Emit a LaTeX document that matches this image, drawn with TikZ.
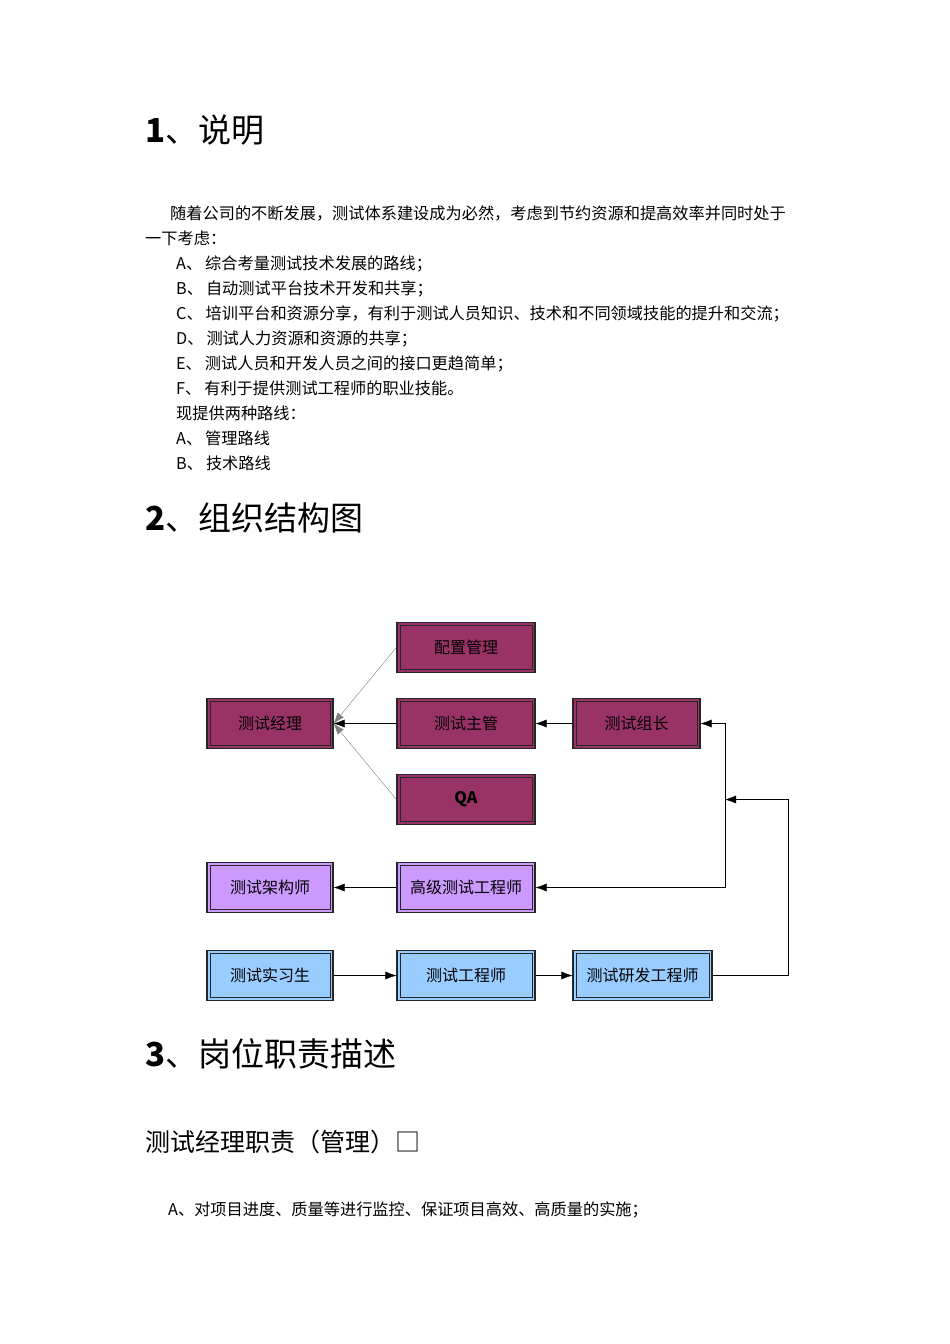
\documentclass[tikz,border=0pt]{standalone}
\usepackage{fontspec}
\setmainfont{Noto Sans CJK SC}
\usetikzlibrary{arrows.meta}
\definecolor{mgr}{HTML}{993366}
\definecolor{sen}{HTML}{CC99FF}
\definecolor{jun}{HTML}{99CCFF}
\begin{document}
\begin{tikzpicture}[x=1pt,y=-1pt]
			\tikzstyle{box}=[
			draw=black!85,
			line width=1.2pt,
			rectangle,
			inner sep=0pt,
			minimum height=50pt,
			font=\fontsize{16}{19}\selectfont,
			path picture={\draw[black!85, line width=1pt] ([shift={(3pt,-3pt)}]path picture bounding box.north west) rectangle ([shift={(-3pt,3pt)}]path picture bounding box.south east);}]
			\tikzstyle{txt}=[anchor=base west, inner sep=0pt, font=\fontsize{16.2}{19}\selectfont]
			\tikzstyle{head}=[anchor=base west, inner sep=0pt, font=\fontsize{33}{38}\selectfont]
			\tikzstyle{link}=[-{Latex[length=11pt,width=8pt]}, black]
			\useasboundingbox (0,0) rectangle (950,1344);
			%
			\node[head] (h1) at (145,142) {\textbf{1}、说明};
			\node[txt] (p1) at (170,219) {随着公司的不断发展，测试体系建设成为必然，考虑到节约资源和提高效率并同时处于};
			\node[txt] (p2) at (145,244) {一下考虑：};
			\foreach \k/\t [count=\i] in {A/综合考量测试技术发展的路线；,B/自动测试平台技术开发和共享；,C/培训平台和资源分享，有利于测试人员知识、技术和不同领域技能的提升和交流；,D/测试人力资源和资源的共享；,E/测试人员和开发人员之间的接口更趋简单；,F/有利于提供测试工程师的职业技能。}
				\node[txt] at (176,244+25*\i) {\k、\hspace{3pt}\t};
			\node[txt] (p3) at (176,419) {现提供两种路线：};
			\node[txt] (r1) at (176,444) {A、\hspace{3pt}管理路线};
			\node[txt] (r2) at (176,469) {B、\hspace{3pt}技术路线};
			\node[head] (h2) at (145,530) {\textbf{2}、组织结构图};
			%
			\node[box, fill=mgr, minimum width=126pt] (TM) at (270,723.5) {测试经理};
			\node[box, fill=mgr, minimum width=138pt] (CM) at (466,647.5) {配置管理};
			\node[box, fill=mgr, minimum width=138pt] (TS) at (466,723.5) {测试主管};
			\node[box, fill=mgr, minimum width=127pt] (TL) at (636.5,723.5) {测试组长};
			\node[box, fill=mgr, minimum width=138pt] (QA) at (466,799.5) {\textbf{QA}};
			\node[box, fill=sen, minimum width=126pt] (TA) at (270,887.5) {测试架构师};
			\node[box, fill=sen, minimum width=138pt] (ST) at (466,887.5) {高级测试工程师};
			\node[box, fill=jun, minimum width=126pt] (IN) at (270,975.5) {测试实习生};
			\node[box, fill=jun, minimum width=138pt] (TE) at (466,975.5) {测试工程师};
			\node[box, fill=jun, minimum width=139pt] (DE) at (642.5,975.5) {测试研发工程师};
			\coordinate (up) at (725,887.5);
			\coordinate (mid) at (725,799.5);
			\coordinate (far) at (788,799.5);
			%
			\draw[link, gray] (CM.west) -- (TM.east);
			\draw[link, gray] (QA.west) -- (TM.east);
			\draw[link] (TS) -- (TM);
			\draw[link] (TL) -- (TS);
			\draw[link] (up) |- (TL.east);
			\draw[link] (up) -- (ST.east);
			\draw[link] (DE.east) -| (far) -- (mid);
			\draw[link] (ST) -- (TA);
			\draw[link] (IN) -- (TE);
			\draw[link] (TE) -- (DE);
			%
			\node[head] (h3) at (145,1066) {\textbf{3}、岗位职责描述};
			\node[txt, font=\fontsize{25}{29}\selectfont] (h4) at (145,1151) {测试经理职责（管理）□};
			\node[txt] (a1) at (168,1215) {A、对项目进度、质量等进行监控、保证项目高效、高质量的实施；};
		\end{tikzpicture}
\end{document}
